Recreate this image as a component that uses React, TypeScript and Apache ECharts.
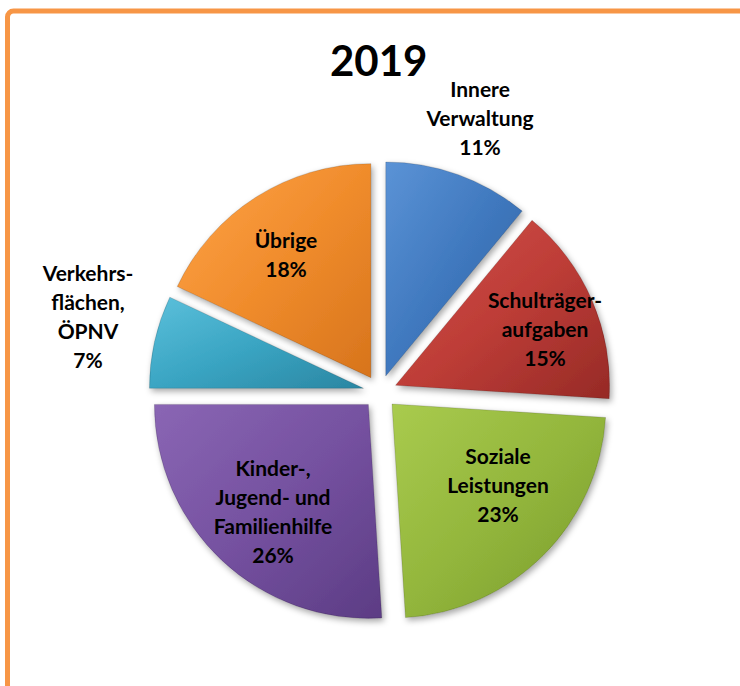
import React, { useEffect, useRef } from "react";
import * as echarts from "echarts";

const titleText = "2019";
const categories = [
  "Innere\nVerwaltung",
  "Schulträger-\naufgaben",
  "Soziale\nLeistungen",
  "Kinder-,\nJugend- und\nFamilienhilfe",
  "Verkehrs-\nflächen,\nÖPNV",
  "Übrige",
];
const shares = [11, 15, 23, 26, 7, 18];

const sliceColors = [
  ["#5B93D6", "#3F78BE", "#2F5F9E"],
  ["#D0524B", "#BE3D37", "#962A26"],
  ["#A9CB4E", "#93B63C", "#779A2C"],
  ["#8A66B4", "#7551A0", "#5C3C84"],
  ["#5CC0DB", "#3AA5C3", "#2A86A2"],
  ["#FFA449", "#F08C2C", "#D7741C"],
];
// label anchor points (pixel positions of the text blocks' centres)
const labelPos = [
  [480, 117],
  [545, 328],
  [498, 484],
  [273, 511],
  [88, 316],
  [286, 254],
];

export default function App() {
  const ref = useRef<HTMLDivElement>(null);
  useEffect(() => {
    const chart = echarts.init(ref.current!, null, { renderer: "svg" });
    const sliceData = shares.map((v, i) => ({
      name: categories[i],
      value: v,
      selected: true,
      itemStyle: {
        color: new echarts.graphic.LinearGradient(0, 0, 1, 1, [
          { offset: 0, color: sliceColors[i][0] },
          { offset: 0.5, color: sliceColors[i][1] },
          { offset: 1, color: sliceColors[i][2] },
        ]),
      },
    }));
    const labelData = shares.map((v, i) => ({ name: categories[i], value: v }));
    const center = [380, 392];
    const radius = 214;
    chart.setOption({
      animation: false,
      backgroundColor: "#ffffff",
      title: {
        text: titleText,
        left: 325,
        top: 34,
        textStyle: {
          fontFamily: "Lato",
          fontWeight: "bold",
          fontSize: 42,
          color: "#000",
        },
      },
      graphic: [
        {
          type: "rect",
          shape: { x: 7.5, y: 11, width: 800, height: 760, r: 6 },
          style: { fill: "none", stroke: "#F79646", lineWidth: 5 },
          silent: true,
        },
      ],
      series: [
        {
          type: "pie",
          center,
          radius: [0, radius],
          startAngle: 90,
          clockwise: true,
          selectedMode: "multiple",
          selectedOffset: 17,
          emphasis: { disabled: true },
          itemStyle: {
            borderColor: "rgba(0,0,0,0.15)",
            borderWidth: 1,
            shadowBlur: 6,
            shadowColor: "rgba(0,0,0,0.35)",
            shadowOffsetX: 2,
            shadowOffsetY: 3,
          },
          label: { show: false },
          labelLine: { show: false },
          data: sliceData,
        },
        {
          type: "pie",
          center,
          radius: [0, radius],
          startAngle: 90,
          clockwise: true,
          silent: true,
          selectedMode: false,
          emphasis: { disabled: true },
          avoidLabelOverlap: false,
          itemStyle: { color: "rgba(0,0,0,0)", borderWidth: 0 },
          label: {
            show: true,
            position: "inside",
            formatter: (p: any) => `${p.name}\n${p.value}%`,
            fontFamily: "Lato",
            fontWeight: "bold",
            fontSize: 21,
            lineHeight: 29,
            color: "#000",
            align: "center",
          },
          labelLine: { show: false },
          labelLayout: (params: any) => {
            const pos = labelPos[params.dataIndex];
            return {
              x: pos[0],
              y: pos[1],
              align: "center",
              verticalAlign: "middle",
            };
          },
          data: labelData,
        },
      ],
    });
    return () => chart.dispose();
  }, []);
  return (
    <div
      ref={ref}
      style={{ position: "fixed", left: 0, top: 0, width: 740, height: 686 }}
    />
  );
}
